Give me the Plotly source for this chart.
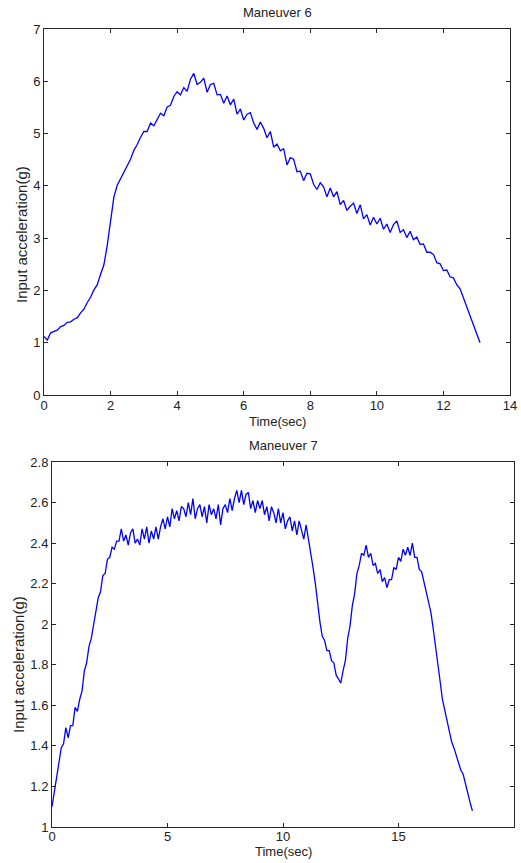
import plotly.graph_objects as go

W, H = 521, 863

dt = 0.1
maneuver6_acc = [
    1.12, 1.05, 1.19, 1.21, 1.24, 1.31, 1.33, 1.39, 1.40, 1.45,
    1.48, 1.57, 1.64, 1.77, 1.87, 2.01, 2.11, 2.31, 2.49, 2.86,
    3.38, 3.79, 4.01, 4.13, 4.24, 4.39, 4.51, 4.68, 4.79, 4.93,
    5.04, 5.04, 5.20, 5.15, 5.28, 5.39, 5.34, 5.51, 5.54, 5.71,
    5.80, 5.74, 5.88, 5.81, 6.04, 6.15, 5.94, 5.98, 6.06, 5.79,
    5.94, 5.96, 5.74, 5.75, 5.58, 5.72, 5.55, 5.66, 5.37, 5.47,
    5.26, 5.37, 5.40, 5.20, 5.08, 5.22, 5.10, 4.92, 5.04, 4.74,
    4.80, 4.67, 4.71, 4.40, 4.54, 4.51, 4.27, 4.28, 4.10, 4.24,
    4.23, 4.03, 3.93, 4.06, 3.98, 3.79, 3.96, 3.79, 3.89, 3.64,
    3.72, 3.53, 3.61, 3.67, 3.47, 3.64, 3.37, 3.45, 3.25, 3.40,
    3.27, 3.38, 3.17, 3.27, 3.11, 3.26, 3.33, 3.11, 3.16, 3.01,
    3.13, 2.97, 3.02, 2.88, 2.89, 2.73, 2.73, 2.69, 2.53, 2.51,
    2.38, 2.39, 2.26, 2.24, 2.11, 2.03, 1.86, 1.68, 1.52, 1.35,
    1.18, 1.00,
]
maneuver7_acc = [
    1.10, 1.17, 1.24, 1.30, 1.39, 1.41, 1.49, 1.44, 1.50, 1.50,
    1.59, 1.57, 1.63, 1.67, 1.77, 1.81, 1.89, 1.93, 2.00, 2.06,
    2.13, 2.16, 2.24, 2.25, 2.32, 2.33, 2.38, 2.37, 2.41, 2.41,
    2.47, 2.41, 2.44, 2.39, 2.45, 2.47, 2.40, 2.42, 2.39, 2.47,
    2.42, 2.48, 2.40, 2.46, 2.42, 2.48, 2.42, 2.48, 2.52, 2.47,
    2.53, 2.48, 2.57, 2.52, 2.56, 2.51, 2.58, 2.57, 2.53, 2.60,
    2.54, 2.62, 2.52, 2.57, 2.59, 2.53, 2.58, 2.50, 2.59, 2.54,
    2.57, 2.52, 2.59, 2.49, 2.57, 2.59, 2.55, 2.62, 2.56, 2.62,
    2.66, 2.60, 2.66, 2.59, 2.64, 2.65, 2.57, 2.61, 2.55, 2.61,
    2.57, 2.61, 2.54, 2.58, 2.51, 2.58, 2.55, 2.50, 2.57, 2.50,
    2.55, 2.47, 2.51, 2.53, 2.46, 2.51, 2.44, 2.51, 2.46, 2.42,
    2.49, 2.42, 2.37, 2.28, 2.20, 2.10, 2.01, 1.94, 1.92, 1.87,
    1.87, 1.82, 1.81, 1.75, 1.73, 1.71, 1.77, 1.82, 1.93, 1.99,
    2.09, 2.15, 2.25, 2.29, 2.35, 2.34, 2.39, 2.33, 2.35, 2.29,
    2.30, 2.25, 2.27, 2.21, 2.23, 2.18, 2.22, 2.22, 2.28, 2.27,
    2.33, 2.31, 2.37, 2.34, 2.38, 2.34, 2.40, 2.33, 2.33, 2.27,
    2.26, 2.21, 2.17, 2.12, 2.06, 1.98, 1.90, 1.80, 1.72, 1.63,
    1.58, 1.52, 1.47, 1.42, 1.39, 1.35, 1.32, 1.28, 1.26, 1.21,
    1.17, 1.12, 1.08,
]
time6 = [round(i * dt, 2) for i in range(len(maneuver6_acc))]
time7 = [round(i * dt, 2) for i in range(len(maneuver7_acc))]

titles = ["Maneuver 6", "Maneuver 7"]
x_label = "Time(sec)"
y_label = "Input acceleration(g)"

FONT = "Liberation Sans, Arial, sans-serif"
AX = "#262626"
TXT = "#222222"


def px(x):
    return x / W


def py(y):
    return 1 - y / H


fig = go.Figure()
fig.add_trace(go.Scatter(x=time6, y=maneuver6_acc, mode="lines",
                         line=dict(color="#0000ff", width=1.3),
                         xaxis="x", yaxis="y", showlegend=False))
fig.add_trace(go.Scatter(x=time7, y=maneuver7_acc, mode="lines",
                         line=dict(color="#0000ff", width=1.3),
                         xaxis="x2", yaxis="y2", showlegend=False))

axis_common = dict(showline=True, linecolor=AX, linewidth=1, mirror="ticks",
                   ticks="inside", ticklen=4, tickcolor=AX, showgrid=False,
                   zeroline=False, automargin=False,
                   tickfont=dict(family=FONT, size=13, color=TXT))

fig.update_layout(
    width=W, height=H,
    margin=dict(l=0, r=0, t=0, b=0, autoexpand=False),
    paper_bgcolor="white", plot_bgcolor="white",
    xaxis=dict(domain=[px(44), px(510)], anchor="y", range=[0, 14],
               tickvals=[0, 2, 4, 6, 8, 10, 12, 14], ticklabelstandoff=-2,
               **axis_common),
    yaxis=dict(domain=[py(395), py(29)], anchor="x", range=[0, 7],
               tickvals=[0, 1, 2, 3, 4, 5, 6, 7], **axis_common),
    xaxis2=dict(domain=[px(52), px(514)], anchor="y2", range=[0, 20],
                tickvals=[0, 5, 10, 15, 20], ticklabelstandoff=-3,
                **axis_common),
    yaxis2=dict(domain=[py(827), py(462)], anchor="x2", range=[1, 2.8],
                tickvals=[1, 1.2, 1.4, 1.6, 1.8, 2, 2.2, 2.4, 2.6, 2.8],
                ticktext=["1", "1.2", "1.4", "1.6", "1.8", "2", "2.2", "2.4", "2.6", "2.8"],
                **axis_common),
)

ann_font = dict(family=FONT, size=13, color=TXT)
ylab_font = dict(family=FONT, size=15, color=TXT)
annotations = [
    dict(text=titles[0], x=px(277), y=py(13), font=ann_font),
    dict(text=x_label, x=px(277), y=py(421), font=ann_font),
    dict(text=y_label, x=px(21), y=py(235), textangle=-90, font=ylab_font),
    dict(text=titles[1], x=px(283), y=py(445), font=ann_font),
    dict(text=x_label, x=px(283), y=py(851), font=ann_font),
    dict(text=y_label, x=px(18), y=py(665), textangle=-90, font=ylab_font),
]
for a in annotations:
    fig.add_annotation(xref="paper", yref="paper", showarrow=False,
                       xanchor="center", yanchor="middle", **a)

fig.write_html(
    "out.html",
    config={"displayModeBar": False},
    post_script="document.body.style.margin='0px';document.body.style.overflow='hidden';",
)
